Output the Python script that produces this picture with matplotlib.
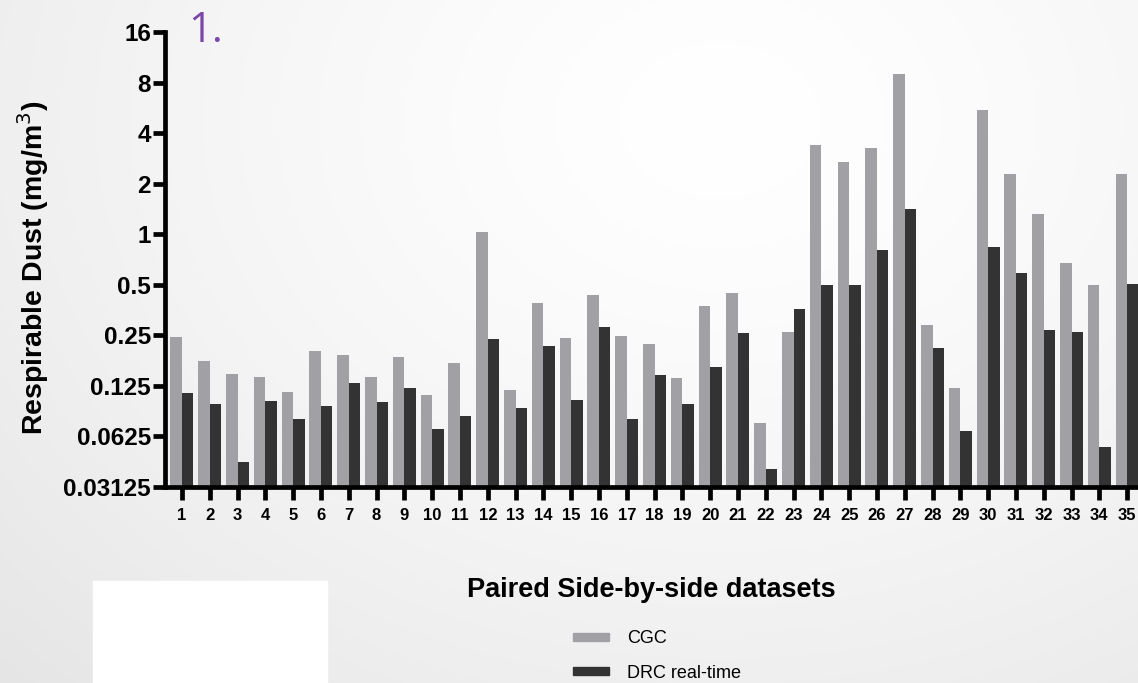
import numpy as np
import matplotlib.pyplot as plt
from matplotlib.patches import Rectangle, Patch

plt.rcParams['font.family'] = ['Liberation Sans', 'DejaVu Sans']

# paired respirable dust readings (mg/m3) per dataset
datasets = list(range(1, 36))
cgc = [0.245, 0.175, 0.148, 0.142, 0.115, 0.202, 0.192, 0.142, 0.187, 0.110,
       0.172, 1.03, 0.118, 0.39, 0.241, 0.435, 0.247, 0.222, 0.140, 0.374,
       0.448, 0.075, 0.262, 3.39, 2.68, 3.25, 8.99, 0.29, 0.122, 5.46,
       2.27, 1.32, 0.67, 0.50, 2.27]
drc = [0.113, 0.097, 0.044, 0.102, 0.079, 0.095, 0.130, 0.100, 0.122, 0.069,
       0.083, 0.238, 0.092, 0.216, 0.103, 0.281, 0.079, 0.146, 0.097, 0.163,
       0.259, 0.040, 0.359, 0.50, 0.50, 0.80, 1.41, 0.210, 0.067, 0.84,
       0.59, 0.27, 0.26, 0.054, 0.507]
y_ticks = [0.03125, 0.0625, 0.125, 0.25, 0.5, 1, 2, 4, 8, 16]
y_tick_labels = ['0.03125', '0.0625', '0.125', '0.25', '0.5', '1', '2', '4', '8', '16']

W, H = 1138, 683
fig = plt.figure(figsize=(W / 100, H / 100), dpi=100)

# soft grey backdrop, brightest near the top middle
bg = fig.add_axes([0, 0, 1, 1])
yy, xx = np.mgrid[0:H, 0:W]
r = np.sqrt(((xx - 720) / 900.0) ** 2 + ((yy - 120) / 700.0) ** 2)
shade = 1.0 - 0.085 * np.clip(r, 0, 1.2) ** 1.4
bg.imshow(np.dstack([shade] * 3), extent=[0, W, H, 0], aspect='auto')
bg.add_patch(Rectangle((93, 581), 234, 102, color='white'))
bg.set_xlim(0, W)
bg.set_ylim(H, 0)
bg.axis('off')

ax = fig.add_axes([165 / W, (H - 487) / H, (W - 165) / W, (487 - 32) / H])
ax.patch.set_alpha(0)

x = np.array(datasets)
w = 0.414
ax.bar(x - w / 2, cgc, width=w, color='#a1a1a5', label='CGC', zorder=2)
ax.bar(x + w / 2, drc, width=w, color='#333333', label='DRC real-time', zorder=2)

ax.set_yscale('log', base=2)
ax.set_ylim(0.03125, 16)
ax.set_xlim(0.39, 35.39)
ax.set_yticks(y_ticks)
ax.set_yticklabels(y_tick_labels)
ax.minorticks_off()
ax.set_xticks(x)
ax.set_xticklabels([str(d) for d in datasets])

for side in ['top', 'right']:
    ax.spines[side].set_visible(False)
for side in ['left', 'bottom']:
    ax.spines[side].set_linewidth(3.4)
    ax.spines[side].set_capstyle('projecting')
ax.tick_params(axis='y', length=9, width=3.4, labelsize=17.5, pad=1)
ax.tick_params(axis='x', length=9, width=3.4, labelsize=12, pad=6)
for lbl in ax.get_yticklabels() + ax.get_xticklabels():
    lbl.set_fontweight('bold')

fig.text(33 / W, 1 - 268 / H, 'Respirable Dust (mg/m$^3$)', rotation=90,
         ha='center', va='center', fontsize=20.5, fontweight='bold')
fig.text(651 / W, 1 - 590 / H, 'Paired Side-by-side datasets',
         ha='center', va='center', fontsize=19.5, fontweight='bold')
fig.text(188 / W, 1 - 31 / H, '1.', ha='left', va='center', fontsize=30,
         color='#7a48a8', family=['Open Sans', 'DejaVu Sans'])

handles = [Patch(color='#a1a1a5', label='CGC'),
           Patch(color='#333333', label='DRC real-time')]
fig.legend(handles=handles, loc='center left', bbox_to_anchor=(560 / W, 1 - 656 / H),
           frameon=False, fontsize=13, handlelength=2.0, handleheight=0.35,
           labelspacing=0.95, handletextpad=1.0, borderpad=0.2)

fig.savefig('out.png', dpi=100)
